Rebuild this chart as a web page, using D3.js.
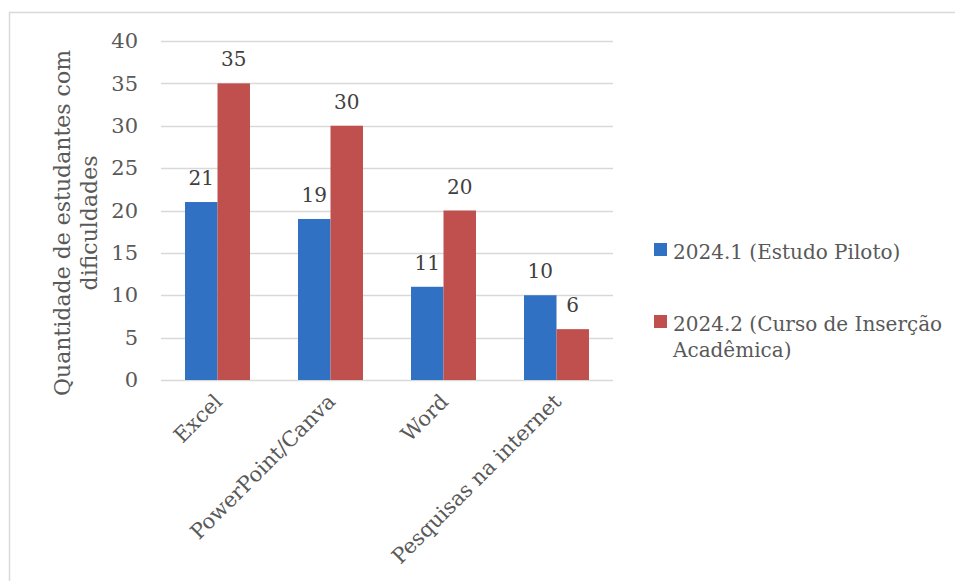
<!DOCTYPE html>
<html><head><meta charset="utf-8">
<script src="https://cdn.jsdelivr.net/npm/d3@7"></script>
<style>
html,body{margin:0;padding:0;background:#fff;}
svg{display:block;}
text{font-family:"DejaVu Serif",serif;}
</style></head>
<body>
<svg id="chart" width="955" height="581"></svg>
<script>
const categories = ["Excel", "PowerPoint/Canva", "Word", "Pesquisas na internet"];
const seriesNames = ["2024.1 (Estudo Piloto)", "2024.2 (Curso de Inserção Acadêmica)"];
const series1 = [21, 19, 11, 10];
const series2 = [35, 30, 20, 6];
const yTicks = [0, 5, 10, 15, 20, 25, 30, 35, 40];
const colors = ["#3171C3", "#C0504D"];
const yTitle = ["Quantidade de estudantes com", "dificuldades"];

const svg = d3.select("#chart");
const pLeft = 161, pRight = 613, pTop = 41, pBottom = 380;

// outer border
svg.append("rect").attr("x", 9.5).attr("y", 12.5).attr("width", 1000).attr("height", 1000)
  .attr("fill", "none").attr("stroke", "#d9d9d9").attr("stroke-width", 1.5);

const y = d3.scaleLinear().domain([0, 40]).range([pBottom, pTop]);
const x0 = d3.scaleBand().domain(categories).range([pLeft, pRight]).paddingInner(0.425).paddingOuter(0.2125);
const x1 = d3.scaleBand().domain([0, 1]).range([0, x0.bandwidth()]);

// gridlines
svg.append("g").selectAll("line").data(yTicks).join("line")
  .attr("x1", pLeft).attr("x2", pRight)
  .attr("y1", d => Math.round(y(d)) + 0.5).attr("y2", d => Math.round(y(d)) + 0.5)
  .attr("stroke", "#d9d9d9").attr("stroke-width", 1.5);

// y axis labels
const yAxis = d3.axisLeft(y).tickValues(yTicks).tickSize(0).tickPadding(0);
const gy = svg.append("g").attr("transform", `translate(138,0)`).call(yAxis);
gy.select(".domain").remove();
gy.selectAll("text").attr("fill", "#595959").style("font-size", "21px").style("font-family", "DejaVu Serif");

// bars
const data = categories.map((c, i) => ({cat: c, vals: [series1[i], series2[i]]}));
const groups = svg.append("g").selectAll("g").data(data).join("g")
  .attr("transform", d => `translate(${x0(d.cat)},0)`);
groups.selectAll("rect").data(d => d.vals.map((v, k) => ({v, k}))).join("rect")
  .attr("x", d => x1(d.k)).attr("width", x1.bandwidth())
  .attr("y", d => y(d.v)).attr("height", d => y(0) - y(d.v))
  .attr("fill", d => colors[d.k]);
groups.selectAll("text.lbl").data(d => d.vals.map((v, k) => ({v, k}))).join("text")
  .attr("class", "lbl")
  .attr("x", d => x1(d.k) + x1.bandwidth() / 2).attr("y", d => y(d.v) - 17)
  .attr("text-anchor", "middle").attr("fill", "#404040").style("font-size", "20px")
  .text(d => d.v);

// x axis labels
const xAxis = d3.axisBottom(x0).tickSize(0).tickPadding(0);
const gx = svg.append("g").attr("transform", `translate(0,${pBottom})`).call(xAxis);
gx.select(".domain").remove();
gx.selectAll("text")
  .attr("fill", "#595959").style("font-size", "21px").style("font-family", "DejaVu Serif")
  .attr("text-anchor", "end").attr("dy", null).attr("y", 0)
  .attr("transform", "translate(6,23) rotate(-45)");

// y title
yTitle.forEach((t, i) => {
  svg.append("text").attr("transform", `translate(${70 + i * 27},223) rotate(-90)`)
    .attr("text-anchor", "middle").attr("fill", "#595959").style("font-size", "22px").text(t);
});

// legend
const legendItems = [
  {lines: ["2024.1 (Estudo Piloto)"], y: 259, color: colors[0]},
  {lines: ["2024.2 (Curso de Inserção", "Acadêmica)"], y: 331, color: colors[1]}
];
const lg = svg.append("g");
legendItems.forEach(it => {
  lg.append("rect").attr("x", 654).attr("y", it.y - 16).attr("width", 13).attr("height", 13).attr("fill", it.color);
  it.lines.forEach((l, j) => {
    lg.append("text").attr("x", 673).attr("y", it.y + j * 26).attr("fill", "#595959")
      .style("font-size", "20px").text(l);
  });
});
</script>
</body></html>
